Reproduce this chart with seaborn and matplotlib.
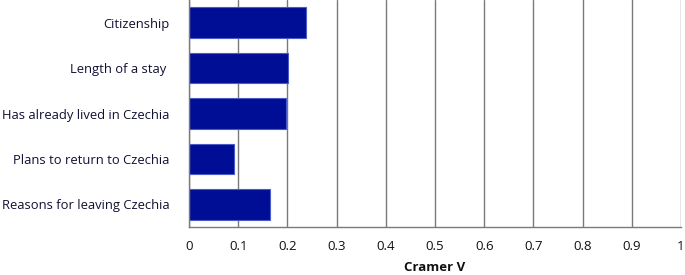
import matplotlib
matplotlib.use("Agg")
import matplotlib.pyplot as plt
import seaborn as sns
import pandas as pd
import numpy as np
from matplotlib.ticker import FixedLocator

categories = ["Citizenship", "Length of a stay ", "Has already lived in Czechia",
              "Plans to return to Czechia", "Reasons for leaving Czechia"]
cramer_v = [0.238, 0.202, 0.198, 0.092, 0.164]
x_ticks = [0, 0.1, 0.2, 0.3, 0.4, 0.5, 0.6, 0.7, 0.8, 0.9, 1]
x_tick_labels = ["0", "0.1", "0.2", "0.3", "0.4", "0.5", "0.6", "0.7", "0.8", "0.9", "1"]

df = pd.DataFrame({"category": categories, "value": cramer_v})

sns.set_style("white")
plt.rcParams["font.family"] = ["Open Sans", "DejaVu Sans"]

fig = plt.figure(figsize=(6.85, 2.75), dpi=100)
ax = fig.add_axes([189/685, 1 - 227/275, (681-189)/685, 227/275])

sns.barplot(data=df, x="value", y="category", orient="h", ax=ax,
            color="#000E96", edgecolor="#4A5BC8", linewidth=0.8,
            width=0.67, saturation=1)

ax.set_xlim(0, 1)
ax.set_ylim(4.5, -0.5)
ax.set_xticks(x_ticks)
ax.set_xticklabels(x_tick_labels, fontsize=9.5, color="#111111")
ax.grid(axis="x", color="#7a7a7a", linewidth=1.0)
ax.grid(axis="y", visible=False)
ax.set_axisbelow(True)

ax.yaxis.set_minor_locator(FixedLocator(np.arange(-0.5, 5.0, 1.0)))
ax.tick_params(axis="y", which="major", length=0, pad=14, labelsize=9.4, labelcolor="#111133")
ax.tick_params(axis="y", which="minor", length=5, width=1, color="#7a7a7a", direction="out")
ax.tick_params(axis="x", which="major", length=4, width=1, color="#7a7a7a", direction="out", pad=5)

for s in ["top", "right"]:
    ax.spines[s].set_visible(False)
for s in ["left", "bottom"]:
    ax.spines[s].set_color("#7a7a7a")
    ax.spines[s].set_linewidth(1.0)

ax.set_ylabel("")
ax.set_xlabel("Cramer V", fontsize=9.5, fontweight="bold", color="#111111", labelpad=6)

fig.savefig("out.png", dpi=100)
